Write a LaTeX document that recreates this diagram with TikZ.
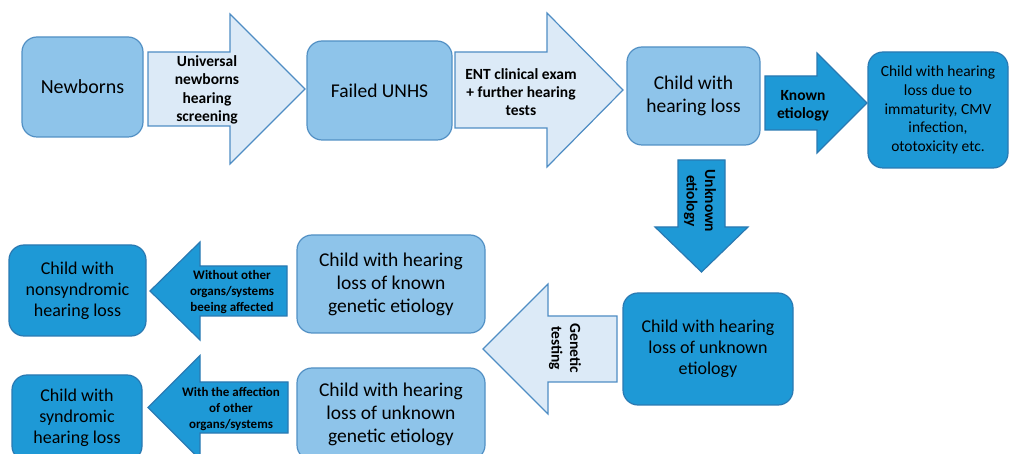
\documentclass[tikz,border=0pt]{standalone}
\usepackage{fontspec}
\setmainfont{Carlito}
\usetikzlibrary{positioning}
\definecolor{lightfill}{HTML}{8EC4EA}
\definecolor{lightline}{HTML}{5290C4}
\definecolor{darkfill}{HTML}{1E99D6}
\definecolor{darkline}{HTML}{2A79B2}
\definecolor{palefill}{HTML}{DCEAF7}
\definecolor{paleline}{HTML}{4F8DC4}
\tikzset{
every picture/.style={
line width=1.2pt
}}
\tikzset{
  box/.style={draw, rounded corners=15pt, align=center, inner sep=0pt},
  lightbox/.style={box, fill=lightfill, draw=lightline},
  darkbox/.style={box, fill=darkfill, draw=darkline},
  palearrow/.style={fill=palefill, draw=paleline},
  darkarrow/.style={fill=darkfill, draw=darkline},
  lbl/.style={font=\bfseries\fontsize{15.5}{18.3}\selectfont, align=center, inner sep=0pt},
  small lbl/.style={lbl, font=\bfseries\fontsize{13}{15.7}\selectfont},
  % shaft length, shaft half width, head length, head half width
  pics/blockarrow/.style n args={4}{code={
    \path[pic actions] (0,-#2) -- (#1,-#2) -- (#1,-#4) -- (#1+#3,0)
      -- (#1,#4) -- (#1,#2) -- (0,#2) -- cycle;
  }}
}

\begin{document}
\begin{tikzpicture}[x=1pt, y=-1pt]
\useasboundingbox (0,0) rectangle (1010,454);

% first row
\node [lightbox, minimum width=121pt, minimum height=100pt,
  font=\fontsize{20}{24}\selectfont] (newborns) at (82.5,87) {Newborns};
\node [lightbox, minimum width=145pt, minimum height=99pt,
  font=\fontsize{19.5}{23}\selectfont] (failed) at (379.5,90.5) {Failed UNHS};
\node [lightbox, minimum width=133pt, minimum height=98pt,
  font=\fontsize{19.5}{23}\selectfont] (child) at (693.5,96) {Child with\\hearing loss};
\node [darkbox, minimum width=140pt, minimum height=116pt,
  font=\fontsize{15.5}{18.7}\selectfont] (known) at (938,110)
  {Child with hearing\\loss due to\\immaturity, CMV\\infection,\\ototoxicity etc.};

% second row
\node [darkbox, minimum width=170pt, minimum height=112pt,
  font=\fontsize{18}{21}\selectfont] (unknown) at (708,349)
  {Child with hearing\\loss of unknown\\etiology};
\node [lightbox, minimum width=188pt, minimum height=98pt,
  font=\fontsize{19.5}{23}\selectfont] (kgen) at (391,284)
  {Child with hearing\\loss of known\\genetic etiology};
\node [lightbox, minimum width=188pt, minimum height=92pt,
  font=\fontsize{19.5}{23}\selectfont] (ugen) at (391,414)
  {Child with hearing\\loss of unknown\\genetic etiology};
\node [darkbox, minimum width=137pt, minimum height=91pt,
  font=\fontsize{18}{21}\selectfont] (nonsyn) at (77.5,290.5)
  {Child with\\nonsyndromic\\hearing loss};
\node [darkbox, minimum width=130pt, minimum height=86pt,
  font=\fontsize{18}{21}\selectfont] (syn) at (77,418)
  {Child with\\syndromic\\hearing loss};

% block arrows
\pic [palearrow] at (148,89) {blockarrow={82}{37}{75}{75}};
\pic [palearrow] at (455,90) {blockarrow={92}{38}{76}{77}};
\pic [darkarrow] at (765,103) {blockarrow={52}{27}{50}{50}};
\pic [darkarrow, rotate=-90] at (701.5,160) {blockarrow={67}{23.5}{45}{46.5}};
\pic [palearrow, rotate=180] at (617,349) {blockarrow={69}{33}{65}{65}};
\pic [darkarrow, rotate=180] at (287,291) {blockarrow={87}{25}{50}{49}};
\pic [darkarrow, rotate=180] at (288,407.5) {blockarrow={88}{25.5}{52}{52}};

% arrow labels
\node [lbl] (unhs) at (207,90) {Universal\\newborns\\hearing\\screening};
\node [lbl] (ent) at (521,92) {ENT clinical exam\\+ further hearing\\tests};
\node [lbl] (ketio) at (803,106) {Known\\etiology};
\node [lbl, rotate=-90] (uetio) at (700,201) {Unknown\\etiology};
\node [lbl, rotate=-90] (gtest) at (565,348) {Genetic\\testing};
\node [small lbl] (without) at (232,292) {Without other\\organs/systems\\beeing affected};
\node [small lbl] (with) at (231,409) {With the affection\\of other\\organs/systems};

\end{tikzpicture}
\end{document}
